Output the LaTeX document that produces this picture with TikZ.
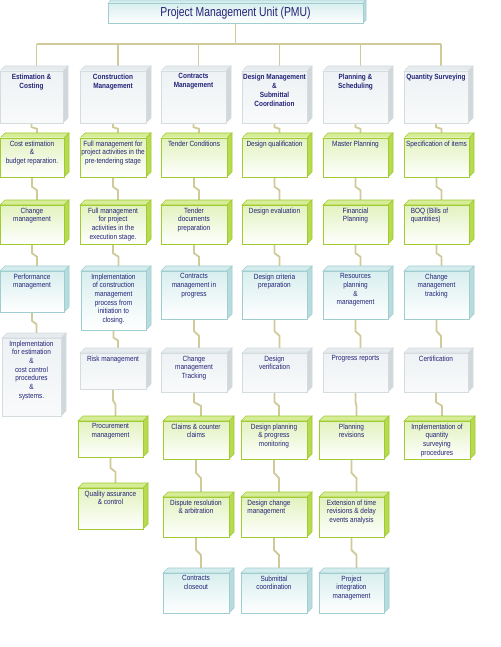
\documentclass[tikz,border=0pt]{standalone}
\usepackage{fontspec}
\setmainfont{Liberation Sans}[FakeStretch=0.86]
\newfontfamily\titlefont{Liberation Sans}[FakeStretch=0.8]
\usetikzlibrary{calc}
\definecolor{txtc}{RGB}{35,35,120}
\definecolor{gbord}{RGB}{160,204,50}
\definecolor{gtopc}{RGB}{214,236,150}
\definecolor{gsidec}{RGB}{184,218,80}
\definecolor{gfill}{RGB}{226,242,190}
\definecolor{bbord}{RGB}{160,206,208}
\definecolor{btopc}{RGB}{212,236,238}
\definecolor{bsidec}{RGB}{184,220,222}
\definecolor{bfill}{RGB}{216,238,238}
\definecolor{wbord}{RGB}{212,220,224}
\definecolor{wtopc}{RGB}{230,236,238}
\definecolor{wsidec}{RGB}{208,216,220}
\definecolor{wfill}{RGB}{238,242,244}
\definecolor{connc}{RGB}{208,202,154}
\pgfdeclarelayer{bg}
\pgfdeclarelayer{links}
\pgfsetlayers{bg,links,main}
\tikzset{
  bodytext/.style={font=\fontsize{7.5}{8.7}\selectfont, text=txtc, align=center, inner sep=0pt},
  headtext/.style={font=\fontsize{7.5}{9}\selectfont\bfseries, text=txtc, align=center, inner sep=0pt},
  gtop/.style={fill=gtopc, draw=gbord, line width=0.6pt},
  gside/.style={fill=gsidec, draw=gbord, line width=0.6pt},
  gfront/.style={top color=gfill, bottom color=white, draw=gbord, line width=0.6pt, inner sep=0pt, outer sep=0pt},
  gtext/.style={bodytext},
  btop/.style={fill=btopc, draw=bbord, line width=0.6pt},
  bside/.style={fill=bsidec, draw=bbord, line width=0.6pt},
  bfront/.style={top color=bfill, bottom color=white, draw=bbord, line width=0.6pt, inner sep=0pt, outer sep=0pt},
  btext/.style={bodytext},
  wtop/.style={fill=wtopc, draw=wbord, line width=0.6pt},
  wside/.style={fill=wsidec, draw=wbord, line width=0.6pt},
  wfront/.style={top color=wfill, bottom color=white!60!wfill, draw=wbord, line width=0.6pt, inner sep=0pt, outer sep=0pt},
  wtext/.style={bodytext},
  htop/.style={wtop},
  hside/.style={wside},
  hfront/.style={wfront},
  htext/.style={headtext},
  conn/.style={draw=connc, line width=1.8pt},
}
\newcommand\mkcube[8][]{%
  \filldraw[#3top] (#4,#5) -- (#4+5,#5-5) -- (#6+5,#5-5) -- (#6,#5) -- cycle;
  \filldraw[#3side] (#6,#5) -- (#6+5,#5-5) -- (#6+5,#7-5) -- (#6,#7) -- cycle;
  \node[#3front, anchor=north west, minimum width={(#6-#4)*1pt}, minimum height={(#7-#5)*1pt}] (#2) at (#4,#5) {};
  \node[#3text, anchor=north, yshift=-2.5pt, #1] (#2t) at (#2.north) {#8};
  \coordinate (#2top) at ({(#4+#6)/2+5},#5-5);
}
\newcommand\conlink[2]{%
  \begin{pgfonlayer}{links}
  \path ($(#1.south)!.42!(#2top)$) coordinate (#1p) ($(#1.south)!.58!(#2top)$) coordinate (#1q);
  \draw[conn] (#1.south) -- (#1.south |- #1p) -- (#2top |- #1q) -- (#2top);
  \end{pgfonlayer}%
}
\begin{document}
\begin{tikzpicture}[x=1pt,y=-1pt]
\begin{pgfonlayer}{bg}
\fill[white] (0,0) rectangle (500,647);
\end{pgfonlayer}
\useasboundingbox (0,0) rectangle (500,647);
% title
\filldraw[fill=btopc, draw=bbord, line width=0.6pt] (108,3) -- (111,0) -- (366,0) -- (363,3) -- cycle;
\filldraw[fill=bsidec, draw=bbord, line width=0.6pt] (363,3) -- (366,0) -- (366,20) -- (363,23) -- cycle;
\node[top color=bfill, bottom color=white, draw=bbord, line width=0.6pt, anchor=north west, minimum width=255pt, minimum height=20pt, inner sep=0pt, outer sep=0pt] (pmu) at (108,3) {};
\node[text=txtc, font=\titlefont\fontsize{13}{14}\selectfont, inner sep=0pt] (pmut) at (pmu.center) {Project Management Unit (PMU)};
% headers
\mkcube{h1}{h}{0}{71}{63}{123}{Estimation \&\\Costing}
\mkcube{h2}{h}{80}{71}{146}{123}{Construction\\Management}
\mkcube{h3}{h}{161}{71}{226}{123}{Contracts\\Management}
\mkcube{h4}{h}{242}{71}{307}{123}{Design Management\\\&\\Submittal\\Coordination}
\mkcube{h5}{h}{323}{71}{388}{123}{Planning \&\\Scheduling}
\mkcube{h6}{h}{404}{71}{468}{123}{Quantity Surveying}
% column 1
\mkcube{a1}{g}{0}{138}{64}{177}{Cost estimation\\\&\\budget reparation.}
\mkcube{a2}{g}{0}{205}{64}{244}{Change\\management}
\mkcube{a3}{b}{0}{271}{64}{312}{Performance\\management}
\mkcube{a4}{w}{2}{338}{61}{416}{Implementation\\for estimation\\\&\\cost control\\procedures\\\&\\systems.}
% column 2
\mkcube{b1}{g}{80}{138}{146}{177}{Full management for\\project activities in the\\pre-tendering stage}
\mkcube{b2}{g}{80}{205}{146}{244}{Full management\\for project\\activities in the\\execution stage.}
\mkcube{b3}{b}{81}{271}{146}{330}{Implementation\\of construction\\management\\process from\\initiation to\\closing.}
\mkcube{b4}{w}{80}{353}{146}{389}{Risk management}
\mkcube{b5}{g}{78}{421}{143}{457}{Procurement\\management}
\mkcube{b6}{g}{78}{488}{143}{529}{Quality assurance\\\& control}
% column 3
\mkcube{c1}{g}{161}{138}{227}{177}{Tender Conditions}
\mkcube{c2}{g}{161}{205}{227}{244}{Tender\\documents\\preparation}
\mkcube{c3}{b}{161}{271}{227}{319}{Contracts\\management in\\progress}
\mkcube{c4}{w}{161}{353}{227}{392}{Change\\management\\Tracking}
\mkcube{c5}{g}{163}{421}{229}{459}{Claims \& counter\\claims}
\mkcube{c6}{g}{163}{497}{229}{537}{Dispute resolution\\\& arbitration}
\mkcube{c7}{b}{163}{573}{229}{613}{Contracts\\closeout}
% column 4
\mkcube{d1}{g}{242}{138}{307}{177}{Design qualification}
\mkcube{d2}{g}{242}{205}{307}{244}{Design evaluation}
\mkcube{d3}{b}{242}{271}{307}{319}{Design criteria\\preparation}
\mkcube{d4}{w}{242}{353}{307}{392}{Design\\verification}
\mkcube{d5}{g}{241}{421}{307}{459}{Design planning\\\& progress\\monitoring}
\mkcube[align=left, xshift=-5pt]{d6}{g}{241}{497}{307}{537}{Design change\\management}
\mkcube{d7}{b}{241}{573}{307}{613}{Submittal\\coordination}
% column 5
\mkcube{e1}{g}{323}{138}{388}{177}{Master Planning}
\mkcube{e2}{g}{323}{205}{388}{244}{Financial\\Planning}
\mkcube{e3}{b}{323}{271}{388}{319}{Resources\\planning\\\&\\management}
\mkcube{e4}{w}{323}{353}{388}{392}{Progress reports}
\mkcube{e5}{g}{319}{421}{384}{459}{Planning\\revisions}
\mkcube{e6}{g}{319}{497}{384}{537}{Extension of time\\revisions \& delay\\events analysis}
\mkcube{e7}{b}{319}{573}{384}{613}{Project\\integration\\management}
% column 6
\mkcube{f1}{g}{404}{138}{469}{177}{Specification of items}
\mkcube[align=left, xshift=-7pt]{f2}{g}{404}{205}{469}{244}{BOQ (Bills of\\quantities)}
\mkcube{f3}{b}{404}{271}{469}{319}{Change\\management\\tracking}
\mkcube{f4}{w}{404}{353}{468}{392}{Certification}
\mkcube{f5}{g}{404}{421}{470}{459}{Implementation of\\quantity\\surveying\\procedures}
% top connectors
\coordinate (bus) at (0,44);
\begin{pgfonlayer}{links}
\draw[conn] (pmu.south) -- (pmu.south |- bus);
\draw[conn] (h1top |- bus) -- (h6top |- bus);
\foreach \h in {h1,h2,h3,h4,h5,h6} {\draw[conn] (\h top |- bus) -- (\h top);}
\end{pgfonlayer}
% column connectors
\conlink{h1}{a1}\conlink{a1}{a2}\conlink{a2}{a3}\conlink{a3}{a4}
\conlink{h2}{b1}\conlink{b1}{b2}\conlink{b2}{b3}\conlink{b3}{b4}\conlink{b4}{b5}\conlink{b5}{b6}
\conlink{h3}{c1}\conlink{c1}{c2}\conlink{c2}{c3}\conlink{c3}{c4}\conlink{c4}{c5}\conlink{c5}{c6}\conlink{c6}{c7}
\conlink{h4}{d1}\conlink{d1}{d2}\conlink{d2}{d3}\conlink{d3}{d4}\conlink{d4}{d5}\conlink{d5}{d6}\conlink{d6}{d7}
\conlink{h5}{e1}\conlink{e1}{e2}\conlink{e2}{e3}\conlink{e3}{e4}\conlink{e4}{e5}\conlink{e5}{e6}\conlink{e6}{e7}
\conlink{h6}{f1}\conlink{f1}{f2}\conlink{f2}{f3}\conlink{f3}{f4}\conlink{f4}{f5}
\end{tikzpicture}
\end{document}
